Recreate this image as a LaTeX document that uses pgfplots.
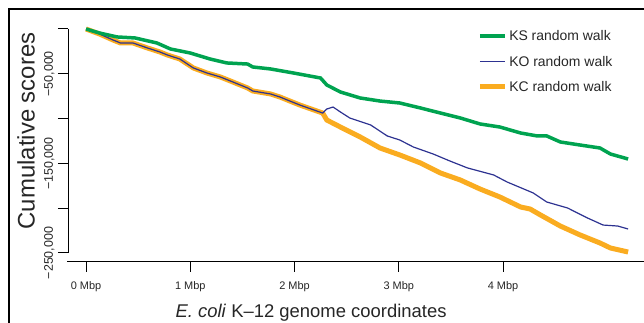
\documentclass[border=0pt]{standalone}
\usepackage{fontspec}
\setmainfont{Liberation Sans}
\usepackage{pgfplots}
\pgfplotsset{compat=1.18}
\usepackage{pgfplotstable}
\definecolor{ksgreen}{RGB}{0,163,80}
\definecolor{koblue}{RGB}{45,50,145}
\definecolor{kcorange}{RGB}{250,172,32}

\pgfplotstableread{
x y
0 0
0.13 -4500
0.30 -8900
0.47 -10000
0.68 -15600
0.81 -22300
1.00 -26800
1.19 -33500
1.35 -37900
1.55 -39100
1.60 -42400
1.77 -44600
1.99 -49100
2.25 -54700
2.31 -62500
2.44 -70300
2.63 -77000
2.82 -80400
3.01 -82600
3.21 -88200
3.40 -93800
3.59 -99300
3.78 -106000
3.97 -109400
4.17 -116100
4.33 -119400
4.42 -119400
4.55 -126100
4.74 -129500
4.93 -132800
5.03 -139500
5.20 -145100
}\ksdata

\pgfplotstableread{
x y
0 0
0.13 -5600
0.26 -12300
0.33 -15600
0.45 -15600
0.59 -21200
0.71 -25700
0.78 -29000
0.90 -33500
1.03 -43500
1.16 -49100
1.29 -53600
1.41 -59200
1.55 -65800
1.60 -69200
1.77 -72500
1.86 -75900
2.05 -84800
2.27 -93800
2.31 -101600
2.44 -109400
2.63 -120500
2.82 -132800
3.01 -140600
3.21 -149600
3.40 -160700
3.59 -168500
3.78 -178600
3.97 -187500
4.17 -198700
4.26 -200900
4.36 -207600
4.55 -219900
4.74 -229900
4.93 -238800
5.03 -244400
5.20 -248900
}\kcdata

\pgfplotstableread{
x y
0 0
0.13 -5600
0.26 -12300
0.33 -15600
0.45 -15600
0.59 -21200
0.71 -25700
0.78 -29000
0.90 -33500
1.03 -43500
1.16 -49100
1.29 -53600
1.41 -59200
1.55 -65800
1.60 -69200
1.77 -72500
1.86 -75900
2.05 -84800
2.27 -93800
2.31 -89300
2.37 -87100
2.44 -92600
2.53 -99300
2.73 -107100
2.89 -119400
3.01 -123900
3.14 -131700
3.33 -139500
3.49 -147300
3.66 -155100
3.91 -162900
4.04 -170800
4.29 -183000
4.42 -193100
4.62 -199800
4.81 -210900
4.96 -218800
5.10 -219900
5.20 -223200
}\kodata

\begin{document}
\begin{tikzpicture}
\useasboundingbox (0,0) rectangle (644bp,323bp);
\begin{axis}[
  at={(68bp,61bp)}, anchor=south west,
  scale only axis, width=576bp, height=253bp,
  xmin=-0.1727, xmax=5.3525,
  ymin=-260045, ymax=22321,
  scaled y ticks=false, scaled x ticks=false,
  clip=false,
  axis line style={draw=none},
  tick align=outside,
  xtick pos=bottom, ytick pos=left,
  major tick length=10bp,
  tick style={black, line width=1bp},
  xtick={0,1,2,3,4},
  xticklabels={0 Mbp,1 Mbp,2 Mbp,3 Mbp,4 Mbp},
  ytick={-250000,-200000,-150000,-100000,-50000,0},
  yticklabels={{−250,000},{},{−150,000},{},{−50,000},{}},
  xticklabel style={font=\fontsize{11}{13}\selectfont, text=black!85, yshift=-6bp},
  yticklabel style={font=\fontsize{12.5}{14}\selectfont, text=black!85, rotate=90, anchor=south, xshift=0bp},
  xlabel={\textit{E. coli} K–12 genome coordinates},
  xlabel style={at={(rel axis cs:0.422,-0.2213)}, anchor=base, font=\fontsize{18.5}{20}\selectfont, text=black!85},
  ylabel={Cumulative scores},
  ylabel style={at={(rel axis cs:-0.0729,0.518)}, anchor=center, rotate=0, font=\fontsize{24}{26}\selectfont, text=black!85},
  legend image code/.code={\draw[#1] (0bp,0bp) -- (25bp,0bp);},
  legend style={at={(rel axis cs:0.705,0.93)}, anchor=north west, draw=none, fill=none,
    font=\fontsize{14}{16}\selectfont, text=black!85, row sep=11.5bp,
    nodes={inner sep=2bp, text height=10bp, text depth=0bp}},
  legend cell align=left,
]
\addlegendimage{ksgreen, line width=3.5bp}
\addlegendentry{KS random walk}
\addlegendimage{koblue, line width=1.2bp}
\addlegendentry{KO random walk}
\addlegendimage{kcorange, line width=5bp}
\addlegendentry{KC random walk}
\addplot[kcorange, line width=5bp, forget plot] table {\kcdata};
\addplot[koblue, line width=1.2bp, forget plot] table {\kodata};
\addplot[ksgreen, line width=3.5bp, forget plot] table {\ksdata};
\end{axis}
\draw[line width=1bp] (67bp,61bp) -- (644bp,61bp);
\draw[line width=1bp] (68bp,294bp) -- (68bp,70bp);
\draw[line width=1.2bp] (9bp,0bp) -- (9bp,314bp) -- (644bp,314bp);
\end{tikzpicture}
\end{document}
